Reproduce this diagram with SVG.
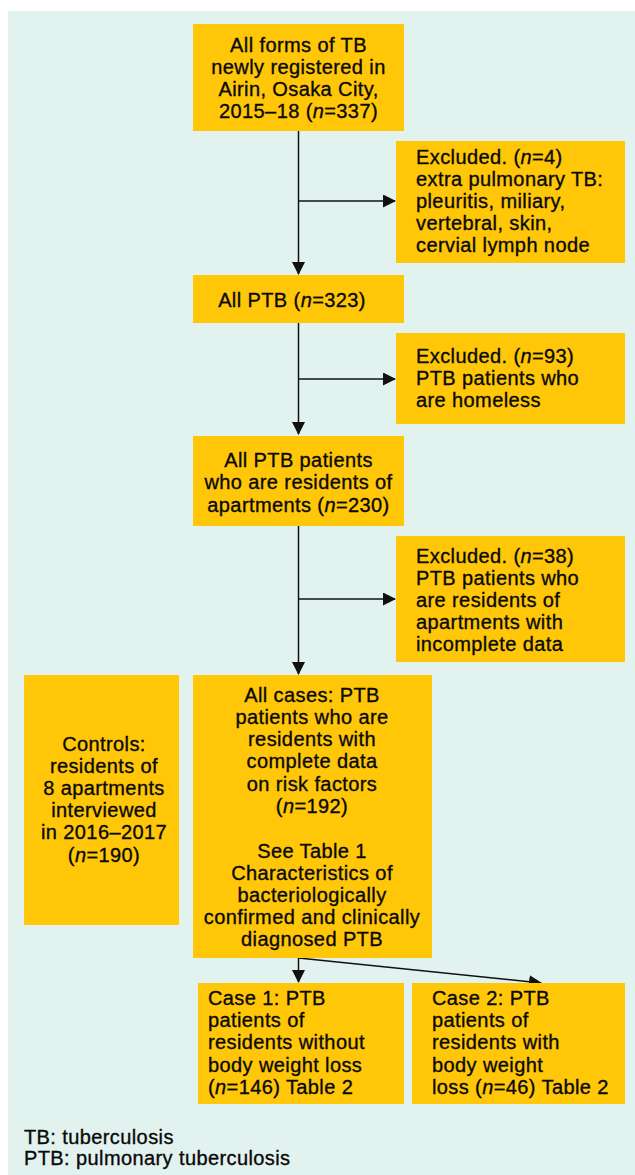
<svg xmlns="http://www.w3.org/2000/svg" width="635" height="1175" viewBox="0 0 635 1175">
<style>
.box{fill:#FFC708;}
.t{font-family:"Liberation Sans",Arial,sans-serif;font-size:20px;letter-spacing:0.4px;fill:#0a0a0a;stroke:#0a0a0a;stroke-width:0.35px;}
.c{text-anchor:middle;}
.i{font-style:italic;}
.ln{stroke:#111;stroke-width:1.5;fill:none;}
</style>
<defs>
<marker id="ah" markerUnits="userSpaceOnUse" markerWidth="13" markerHeight="13" refX="12" refY="6.5" orient="auto" viewBox="0 0 13 13">
<path d="M0,0 L13,6.5 L0,13 z" fill="#111"/>
</marker>
</defs>
<rect x="8" y="11" width="627" height="1164" fill="#E2F2EF"/>

<g id="connectors">
<line class="ln" x1="298.5" y1="131" x2="298.5" y2="274" marker-end="url(#ah)"/>
<line class="ln" x1="298.5" y1="201" x2="395" y2="201" marker-end="url(#ah)"/>
<line class="ln" x1="298.5" y1="323" x2="298.5" y2="434" marker-end="url(#ah)"/>
<line class="ln" x1="298.5" y1="379" x2="395" y2="379" marker-end="url(#ah)"/>
<line class="ln" x1="298.5" y1="526" x2="298.5" y2="674" marker-end="url(#ah)"/>
<line class="ln" x1="298.5" y1="599" x2="395" y2="599" marker-end="url(#ah)"/>
<line class="ln" x1="298.5" y1="958" x2="298.5" y2="982" marker-end="url(#ah)"/>
<line class="ln" x1="298.5" y1="958" x2="541" y2="983" marker-end="url(#ah)"/>
</g>

<g id="n-all-tb">
<rect class="box" x="193" y="24" width="211" height="107"/>
<text class="t c" x="298.5" y="52">All forms of TB</text>
<text class="t c" x="298.5" y="74">newly registered in</text>
<text class="t c" x="298.5" y="96">Airin, Osaka City,</text>
<text class="t c" x="298.5" y="118">2015–18 (<tspan class="i">n</tspan>=337)</text>
</g>

<g id="n-excl-4">
<rect class="box" x="396" y="141" width="229" height="122"/>
<text class="t" x="416" y="164">Excluded. (<tspan class="i">n</tspan>=4)</text>
<text class="t" x="416" y="186">extra pulmonary TB:</text>
<text class="t" x="416" y="208">pleuritis, miliary,</text>
<text class="t" x="416" y="230">vertebral, skin,</text>
<text class="t" x="416" y="252">cervial lymph node</text>
</g>

<g id="n-all-ptb">
<rect class="box" x="193" y="275" width="211" height="48"/>
<text class="t c" x="292" y="307">All PTB (<tspan class="i">n</tspan>=323)</text>
</g>

<g id="n-excl-93">
<rect class="box" x="396" y="333" width="229" height="91"/>
<text class="t" x="416" y="363">Excluded. (<tspan class="i">n</tspan>=93)</text>
<text class="t" x="416" y="385">PTB patients who</text>
<text class="t" x="416" y="407">are homeless</text>
</g>

<g id="n-residents">
<rect class="box" x="193" y="436" width="211" height="90"/>
<text class="t c" x="298.5" y="467">All PTB patients</text>
<text class="t c" x="298.5" y="489">who are residents of</text>
<text class="t c" x="298.5" y="511.5">apartments (<tspan class="i">n</tspan>=230)</text>
</g>

<g id="n-excl-38">
<rect class="box" x="396" y="536" width="229" height="126"/>
<text class="t" x="416" y="563">Excluded. (<tspan class="i">n</tspan>=38)</text>
<text class="t" x="416" y="585">PTB patients who</text>
<text class="t" x="416" y="607">are residents of</text>
<text class="t" x="416" y="629">apartments with</text>
<text class="t" x="416" y="651">incomplete data</text>
</g>

<g id="n-controls">
<rect class="box" x="24" y="675" width="155" height="250"/>
<text class="t c" x="104" y="751">Controls:</text>
<text class="t c" x="104" y="773">residents of</text>
<text class="t c" x="104" y="795">8 apartments</text>
<text class="t c" x="104" y="817">interviewed</text>
<text class="t c" x="104" y="839">in 2016–2017</text>
<text class="t c" x="104" y="862">(<tspan class="i">n</tspan>=190)</text>
</g>

<g id="n-all-cases">
<rect class="box" x="193" y="675" width="239" height="283"/>
<text class="t c" x="312" y="702">All cases: PTB</text>
<text class="t c" x="312" y="724">patients who are</text>
<text class="t c" x="312" y="746">residents with</text>
<text class="t c" x="312" y="768">complete data</text>
<text class="t c" x="312" y="790.5">on risk factors</text>
<text class="t c" x="312" y="813">(<tspan class="i">n</tspan>=192)</text>
<text class="t c" x="312" y="858">See Table 1</text>
<text class="t c" x="312" y="880">Characteristics of</text>
<text class="t c" x="312" y="902">bacteriologically</text>
<text class="t c" x="312" y="924">confirmed and clinically</text>
<text class="t c" x="312" y="946">diagnosed PTB</text>
</g>

<g id="n-case1">
<rect class="box" x="198" y="983" width="206" height="121"/>
<text class="t" x="208" y="1005">Case 1: PTB</text>
<text class="t" x="208" y="1027">patients of</text>
<text class="t" x="208" y="1049">residents without</text>
<text class="t" x="208" y="1072">body weight loss</text>
<text class="t" x="208" y="1093.5">(<tspan class="i">n</tspan>=146) Table 2</text>
</g>

<g id="n-case2">
<rect class="box" x="412" y="983" width="213" height="121"/>
<text class="t" x="432" y="1005">Case 2: PTB</text>
<text class="t" x="432" y="1027">patients of</text>
<text class="t" x="432" y="1049">residents with</text>
<text class="t" x="432" y="1072">body weight</text>
<text class="t" x="432" y="1093.5">loss (<tspan class="i">n</tspan>=46) Table 2</text>
</g>

<g id="legend">
<text class="t" x="24" y="1144">TB: tuberculosis</text>
<text class="t" x="24" y="1165">PTB: pulmonary tuberculosis</text>
</g>
</svg>
